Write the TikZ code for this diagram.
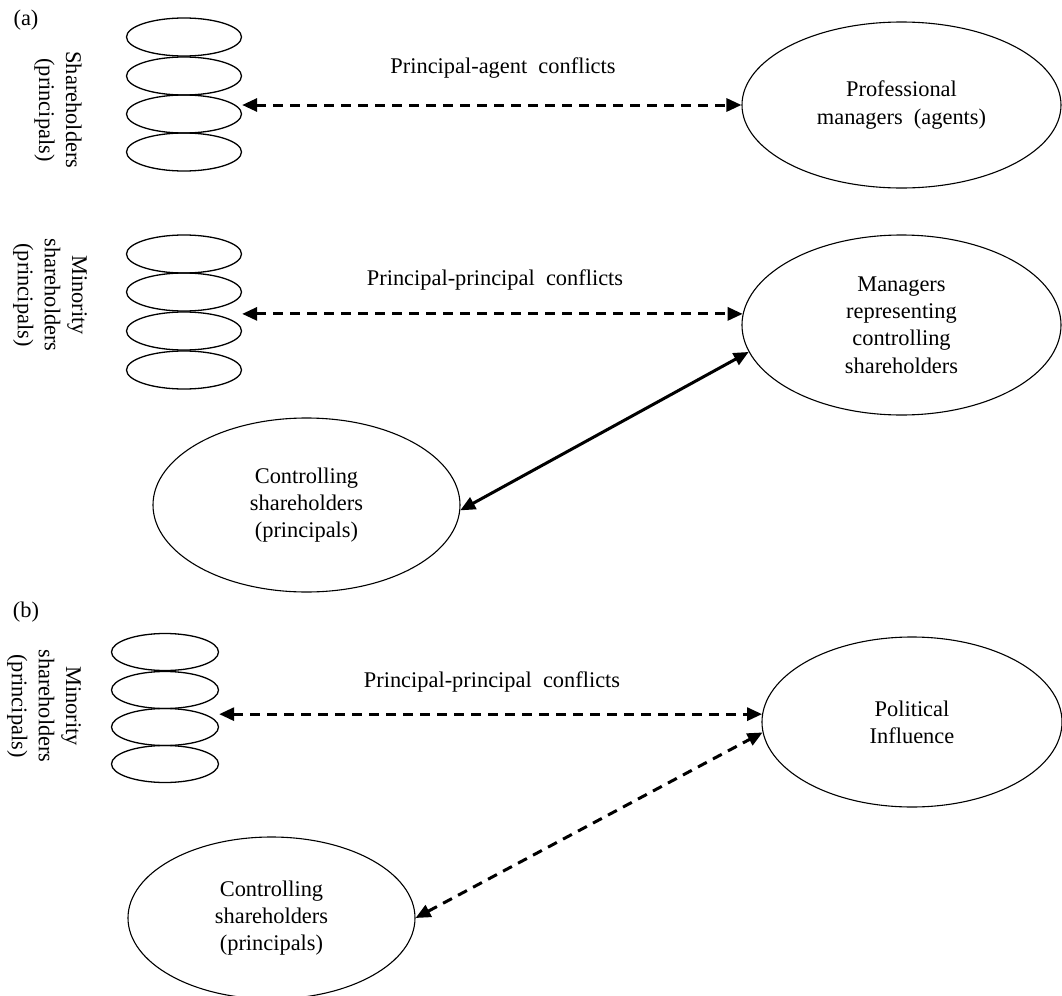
\documentclass[tikz,border=0pt]{standalone}
\usepackage{fontspec}
\setmainfont{Liberation Serif}
\usetikzlibrary{shapes.geometric,arrows.meta}
\newcommand\lblfont{\fontsize{11.2pt}{13.6pt}\selectfont}
\begin{document}
\begin{tikzpicture}[x=0.5pt,y=-0.5pt,
  smallell/.style={ellipse, draw, line width=0.65pt, inner sep=0pt, minimum width=57.5pt, minimum height=19pt},
  smallellb/.style={ellipse, draw, line width=0.65pt, inner sep=0pt, minimum width=53.5pt, minimum height=18.5pt},
  bigell/.style={ellipse, draw, line width=0.55pt, inner sep=0pt, align=center, font=\lblfont},
  rotlbl/.style={rotate=-90, align=center, font=\lblfont, inner sep=0pt},
  txt/.style={font=\lblfont, inner sep=0pt},
  tip/.tip={Triangle[length=7.5pt,width=6.5pt]},
  dasharrow/.style={line width=1.5pt, dash pattern=on 5pt off 3.5pt, tip-tip},
  solidarrow/.style={line width=1.5pt, tip-tip}]
\useasboundingbox (0,0) rectangle (1062,996);

% ---------- (a) upper ----------
\node[txt] (la) at (26,20) {(a)};
\node[smallell] (s1) at (184,37) {};
\node[smallell] (s2) at (184,76) {};
\node[smallell] (s3) at (184,114) {};
\node[smallell] (s4) at (184,152) {};
\node[rotlbl] (lsh) at (58,110) {Shareholders\\(principals)};
\node[bigell, minimum width=159.5pt, minimum height=83pt] (pa) at (901.5,105) {Professional\\managers\ \ (agents)};
\node[txt] (lpa) at (503,68) {Principal-agent\ \ conflicts};
\draw[dasharrow] (s3.east |- pa.west) -- (pa.west);

% ---------- (a) lower ----------
\node[smallell] (m1) at (184,254) {};
\node[smallell] (m2) at (184,292) {};
\node[smallell] (m3) at (184,331) {};
\node[smallell] (m4) at (184,370) {};
\node[rotlbl] (lmin) at (50,295) {Minority\\shareholders\\(principals)};
\node[bigell, minimum width=159.5pt, minimum height=90pt] (mgr) at (901.5,325) {Managers\\representing\\controlling\\shareholders};
\node[txt] (lpp) at (495,280) {Principal-principal\ \ conflicts};
\draw[dasharrow] (m3.east |- mgr.176) -- (mgr.176);
\node[bigell, minimum width=153.5pt, minimum height=87pt] (ca) at (306.5,505) {Controlling\\shareholders\\(principals)};
\draw[solidarrow] (ca.-2) -- (mgr.190);

% ---------- (b) ----------
\node[txt] (lb) at (26,612) {(b)};
\node[smallellb] (n1) at (165,652) {};
\node[smallellb] (n2) at (165,690) {};
\node[smallellb] (n3) at (165,727) {};
\node[smallellb] (n4) at (165,764) {};
\node[rotlbl] (lminb) at (44,706) {Minority\\shareholders\\(principals)};
\node[bigell, minimum width=150pt, minimum height=85pt] (pol) at (912,722) {Political\\Influence};
\node[txt] (lppb) at (492,682) {Principal-principal\ \ conflicts};
\draw[dasharrow] (n3.east |- pol.177) -- (pol.177);
\node[bigell, minimum width=143.5pt, minimum height=81pt] (cb) at (271.5,918) {Controlling\\shareholders\\(principals)};
\draw[dasharrow] (cb.east) -- (pol.184);
\end{tikzpicture}
\end{document}
